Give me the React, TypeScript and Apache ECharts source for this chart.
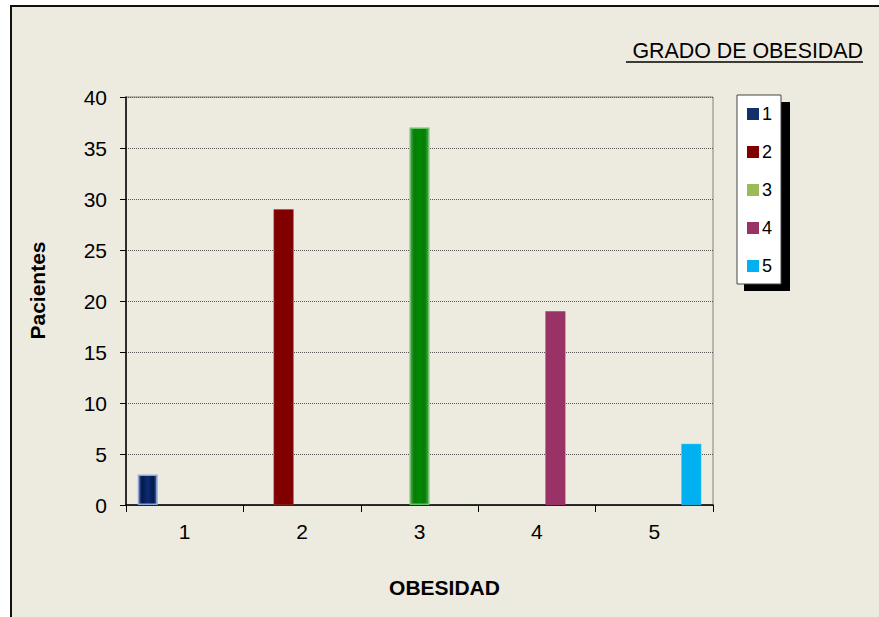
import React, { useEffect, useRef } from "react";
import * as echarts from "echarts";

const categories = ["1", "2", "3", "4", "5"];
const seriesNames = ["1", "2", "3", "4", "5"];
const values = [3, 29, 37, 19, 6];
const yTicks = { min: 0, max: 40, interval: 5 };
const titleText = " GRADO DE OBESIDAD";
const yName = "Pacientes";
const xName = "OBESIDAD";
const legendColors = ["#14306a", "#800000", "#9BBB59", "#993366", "#00B0F0"];

const FONT = "'Liberation Sans', Arial, sans-serif";

export default function App() {
  const ref = useRef<HTMLDivElement>(null);
  useEffect(() => {
    document.body.style.margin = "0";
    const chart = echarts.init(ref.current!, null, { renderer: "svg" });
    const grad = (stops: [number, string][]) =>
      new echarts.graphic.LinearGradient(
        0, 0, 1, 0,
        stops.map(([offset, color]) => ({ offset, color }))
      );
    const styles: any[] = [
      {
        color: grad([[0, "#4a6aae"], [0.18, "#04184a"], [0.5, "#0c2c72"], [0.82, "#04184a"], [1, "#4a6aae"]]),
        borderColor: "#8fa8d8",
        borderWidth: 1.5,
      },
      { color: "#800000", borderColor: "#a04040", borderWidth: 0.5 },
      {
        color: grad([[0, "#4aae4a"], [0.2, "#0a7a0a"], [0.5, "#008a00"], [0.8, "#0a7a0a"], [1, "#4aae4a"]]),
        borderColor: "#6cc06c",
        borderWidth: 1.5,
      },
      { color: "#993366" },
      { color: "#00B0F0", borderColor: "#40c8f8", borderWidth: 0.5 },
    ];
    const series = seriesNames.map((name, i) => ({
      name,
      type: "bar",
      barWidth: 20,
      barGap: "-7.5%",
      data: categories.map((_, j) => (j === i ? values[i] : null)),
      itemStyle: styles[i],
    }));
    chart.setOption({
      animation: false,
      backgroundColor: "#ffffff",
      textStyle: { fontFamily: FONT },
      title: {
        text: titleText,
        right: 16,
        top: 40,
        padding: 0,
        textStyle: { fontFamily: FONT, fontSize: 21.4, fontWeight: "normal", color: "#000" },
      },
      graphic: [
        {
          type: "rect",
          z: -10,
          shape: { x: 11, y: 6, width: 900, height: 650 },
          style: { fill: "#EDEBE0", stroke: "#111", lineWidth: 2 },
          silent: true,
        },
        {
          type: "line",
          z: 10,
          shape: { x1: 626, y1: 62, x2: 863, y2: 62 },
          style: { stroke: "#000", lineWidth: 1.5 },
        },
        {
          type: "rect",
          z: 1,
          shape: { x: 744, y: 102, width: 46, height: 189 },
          style: { fill: "#000" },
        },
      ],
      legend: {
        orient: "vertical",
        left: 737,
        top: 95,
        padding: [9, 9, 8, 10],
        itemWidth: 12,
        itemHeight: 12,
        itemGap: 18,
        icon: "rect",
        backgroundColor: "#ffffff",
        borderColor: "#444",
        borderWidth: 1,
        z: 5,
        textStyle: { fontFamily: FONT, fontSize: 18, lineHeight: 20, color: "#000", padding: [0, 0, 0, -2] },
        data: seriesNames.map((n, i) => ({ name: n, itemStyle: { color: legendColors[i], borderWidth: 0 } })),
      },
      grid: {
        left: 126,
        top: 97,
        right: 166,
        bottom: 112,
        show: true,
        borderColor: "#808080",
        borderWidth: 1,
        backgroundColor: "transparent",
      },
      xAxis: {
        type: "category",
        data: categories,
        name: xName,
        nameLocation: "middle",
        nameGap: 72,
        nameTextStyle: { fontFamily: FONT, fontSize: 21, fontWeight: "bold", color: "#000", padding: [0, 0, 0, 50] },
        axisLine: { lineStyle: { color: "#000", width: 1.5 } },
        axisTick: { show: true, length: 7, lineStyle: { color: "#000" } },
        axisLabel: { fontFamily: FONT, fontSize: 21, color: "#000", margin: 16 },
        splitLine: { show: false },
      },
      yAxis: {
        type: "value",
        min: yTicks.min,
        max: yTicks.max,
        interval: yTicks.interval,
        name: yName,
        nameLocation: "middle",
        nameGap: 78,
        nameTextStyle: { fontFamily: FONT, fontSize: 21, fontWeight: "bold", color: "#000", padding: [0, 0, 0, 21] },
        axisLine: { show: true, lineStyle: { color: "#000", width: 1.5 } },
        axisTick: { show: true, length: 6, lineStyle: { color: "#000" } },
        axisLabel: { fontFamily: FONT, fontSize: 21, color: "#000", margin: 19 },
        splitLine: { show: true, lineStyle: { color: "#555", type: "dotted", width: 1 } },
      },
      series,
    });
    return () => chart.dispose();
  }, []);
  return <div ref={ref} style={{ width: 879, height: 617 }} />;
}
